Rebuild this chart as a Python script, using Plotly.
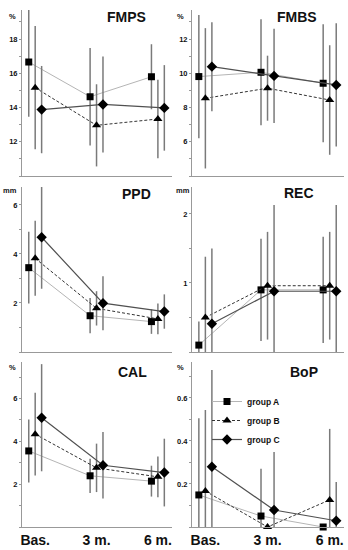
import plotly.graph_objects as go

categories = ["Bas.", "3 m.", "6 m."]
groups = ["group A", "group B", "group C"]

# means per group (A, B, C) at Bas., 3 m., 6 m.
fmps_means = [[16.66, 14.63, 15.80], [15.16, 12.96, 13.33], [13.88, 14.18, 13.98]]
fmps_sds = [[3.2, 2.85, 1.9], [3.6, 2.4, 2.3], [2.55, 2.8, 2.5]]

fmbs_means = [[9.81, 10.06, 9.42], [8.54, 9.13, 8.44], [10.39, 9.85, 9.32]]
fmbs_sds = [[3.6, 3.1, 3.45], [4.1, 1.9, 3.2], [2.6, 2.75, 3.6]]

ppd_means = [[3.44, 1.48, 1.24], [3.82, 1.78, 1.35], [4.68, 1.99, 1.65]]
ppd_sds = [[1.46, 0.72, 0.5], [1.53, 0.7, 0.63], [2.1, 1.1, 0.7]]

rec_means = [[0.10, 0.90, 0.90], [0.50, 0.96, 0.96], [0.41, 0.88, 0.88]]
rec_sds = [[0.34, 0.74, 0.77], [0.88, 0.78, 0.78], [1.09, 1.25, 1.25]]

cal_means = [[3.55, 2.39, 2.14], [4.33, 2.76, 2.34], [5.10, 2.88, 2.54]]
cal_sds = [[1.47, 0.8, 0.72], [1.93, 1.13, 0.95], [2.5, 1.55, 1.58]]

bop_means = [[0.149, 0.051, 0.0], [0.167, 0.0, 0.126], [0.28, 0.079, 0.029]]
bop_sds = [[0.357, 0.22, 0.0], [0.377, 0.0, 0.33], [0.45, 0.27, 0.18]]

W, H = 348, 550
FONT = "Liberation Sans"


def px(x):
    return x / W


def py(y):
    return 1 - y / H


panels = [
    dict(name="FMPS", unit="%", means=fmps_means, sds=fmps_sds, yr=[10, 19.7],
         tv=[12, 14, 16, 18], tt=["12", "14", "16", "18"], dtick=1,
         xd=(22, 172), yd=(10, 176), title_xy=(126, 17), unit_xy=(12, 17)),
    dict(name="FMBS", unit="%", means=fmbs_means, sds=fmbs_sds, yr=[4, 13.7],
         tv=[6, 8, 10, 12], tt=["6", "8", "10", "12"], dtick=1,
         xd=(192, 344), yd=(10, 176), title_xy=(297, 17), unit_xy=(181, 17)),
    dict(name="PPD", unit="mm", means=ppd_means, sds=ppd_sds, yr=[0, 6.73],
         tv=[2, 4, 6], tt=["2", "4", "6"], dtick=1,
         xd=(22, 172), yd=(187, 352), title_xy=(136, 194), unit_xy=(10, 190)),
    dict(name="REC", unit="mm", means=rec_means, sds=rec_sds, yr=[0, 2.39],
         tv=[1, 2], tt=["1", "2"], dtick=0.5,
         xd=(192, 344), yd=(187, 352), title_xy=(299, 193), unit_xy=(183, 190)),
    dict(name="CAL", unit="%", means=cal_means, sds=cal_sds, yr=[0, 7.7],
         tv=[2, 4, 6], tt=["2", "4", "6"], dtick=1,
         xd=(22, 172), yd=(362, 527), title_xy=(132, 372), unit_xy=(12, 367)),
    dict(name="BoP", unit="%", means=bop_means, sds=bop_sds, yr=[0, 0.767],
         tv=[0.2, 0.4, 0.6], tt=["0.2", "0.4", "0.6"], dtick=0.1,
         xd=(192, 344), yd=(362, 527), title_xy=(304, 372), unit_xy=(181, 367)),
]

offsets = [-0.105, 0.0, 0.105]
line_styles = [
    dict(color="#b5b5b5", width=1),
    dict(color="#333333", width=1, dash="3px,2px"),
    dict(color="#505050", width=1.2),
]
symbols = ["square", "triangle-up", "diamond"]
msizes = [7, 8, 8]

fig = go.Figure()
annotations = []
layout = dict()

for i, p in enumerate(panels):
    n = i + 1
    xa = "xaxis" if n == 1 else f"xaxis{n}"
    ya = "yaxis" if n == 1 else f"yaxis{n}"
    xref = "x" if n == 1 else f"x{n}"
    yref = "y" if n == 1 else f"y{n}"
    bottom_row = i >= 4
    layout[xa] = dict(
        domain=[px(p["xd"][0]), px(p["xd"][1])],
        anchor=yref, range=[-0.215, 2.23], automargin=False,
        tickvals=[0, 1, 2], ticktext=categories,
        showticklabels=bottom_row, ticks="",
        tickfont=dict(family=FONT, size=14, color="#111", weight="bold"),
        showgrid=False, zeroline=False, showline=True,
        linecolor="#999999", linewidth=1,
    )
    layout[ya] = dict(
        domain=[py(p["yd"][1]), py(p["yd"][0])],
        anchor=xref, range=p["yr"], automargin=False,
        tickvals=p["tv"], ticktext=p["tt"], ticks="outside", ticklen=2,
        tickcolor="#999999", tickwidth=1,
        minor=dict(dtick=p["dtick"], ticks="outside", ticklen=2,
                   tickcolor="#999999", tickwidth=1, showgrid=False),
        tickfont=dict(family=FONT, size=7.5, color="#111", weight="bold"),
        showgrid=False, zeroline=False, showline=True,
        linecolor="#999999", linewidth=1,
    )
    for g in range(3):
        means = p["means"][g]
        sds = p["sds"][g]
        minus = [min(s, m - p["yr"][0]) for s, m in zip(sds, means)]
        fig.add_trace(go.Scatter(
            x=[k + offsets[g] for k in range(len(categories))],
            y=means,
            xaxis=xref, yaxis=yref,
            mode="lines+markers",
            name=groups[g],
            showlegend=(p["name"] == "BoP"),
            line=line_styles[g],
            marker=dict(symbol=symbols[g], size=msizes[g], color="#000000"),
            error_y=dict(type="data", array=sds, arrayminus=minus,
                         symmetric=False, color="#7a7a7a",
                         thickness=1.5, width=0),
            cliponaxis=False,
        ))
    annotations.append(dict(
        x=px(p["title_xy"][0]), y=py(p["title_xy"][1]), xref="paper", yref="paper",
        text=p["name"], showarrow=False, xanchor="center", yanchor="middle",
        font=dict(family=FONT, size=14, color="#111", weight="bold"),
    ))
    annotations.append(dict(
        x=px(p["unit_xy"][0]), y=py(p["unit_xy"][1]), xref="paper", yref="paper",
        text=p["unit"], showarrow=False, xanchor="center", yanchor="middle",
        font=dict(family=FONT, size=7.5, color="#111", weight="bold"),
    ))

fig.update_layout(
    width=W, height=H,
    margin=dict(l=0, r=0, t=0, b=0),
    paper_bgcolor="white", plot_bgcolor="white",
    annotations=annotations,
    legend=dict(
        x=px(207), y=py(387), xanchor="left", yanchor="top",
        font=dict(family=FONT, size=8.5, color="#111", weight="bold"),
        itemwidth=30, tracegroupgap=0, bgcolor="rgba(0,0,0,0)",
    ),
    **layout,
)

fig.write_html(
    "out.html",
    config={"displayModeBar": False},
    post_script="document.body.style.margin='0';document.body.style.overflow='hidden';",
)
